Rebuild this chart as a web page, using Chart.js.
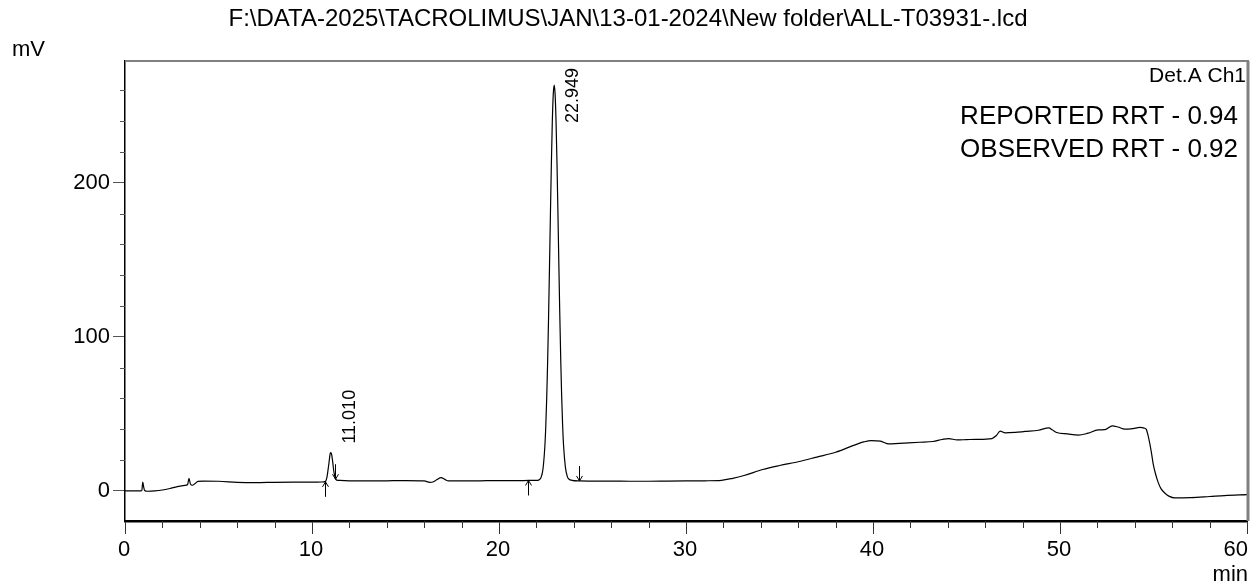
<!DOCTYPE html>
<html>
<head>
<meta charset="utf-8">
<script src="https://cdn.jsdelivr.net/npm/chart.js@4.4.1/dist/chart.umd.min.js"></script>
<style>
    html, body { margin: 0; padding: 0; background: #fff; }
    #wrap { width: 1256px; height: 587px; }
</style>
</head>
<body>
<div id="wrap"><canvas id="chrom" width="1256" height="587"></canvas></div>
<script>
// Chromatogram data (min, mV)
const times = [
    0.0, 0.5, 0.85, 0.9, 0.95, 1.0, 1.05, 1.2, 1.6, 2.0, 2.4, 2.8, 3.2, 3.35, 3.42, 3.5, 3.6, 3.75, 3.9, 4.2,
    5.0, 6.0, 7.0, 8.0, 9.0, 10.0, 10.5, 10.7, 10.8, 10.9, 10.97, 11.0, 11.05, 11.1, 11.17, 11.25, 11.32, 11.5,
    12.0, 13.0, 14.0, 15.0, 16.0, 16.3, 16.5, 16.7, 16.9, 17.1, 17.3, 18.0, 19.0, 20.0, 21.0, 21.6, 22.0,
    22.15, 22.25, 22.35, 22.45, 22.5, 22.55, 22.6, 22.65, 22.7, 22.75, 22.8, 22.85, 22.9, 22.95,
    23.0, 23.05, 23.1, 23.15, 23.2, 23.25, 23.3, 23.35, 23.4, 23.45, 23.55, 23.65, 23.75, 23.9, 24.3,
    25.0, 26.0, 27.0, 28.0, 29.0, 30.0, 31.0, 31.9, 32.5, 33.1, 34.1, 35.0, 36.06, 37.0, 38.0, 39.08,
    39.5, 39.9, 40.4, 40.85, 41.4, 41.9, 42.5, 43.2, 43.7, 44.05, 44.5, 45.0, 45.5, 46.36, 46.6, 46.8,
    47.07, 47.6, 48.13, 48.84, 49.4, 49.6, 49.82, 50.4, 50.98, 51.5, 52.04, 52.4, 52.8, 53.1, 53.47,
    53.9, 54.27, 54.5, 54.62, 54.7, 54.8, 54.9, 54.98, 55.1, 55.24, 55.4, 55.6, 55.85, 56.13, 57.0,
    58.0, 58.8, 60.0
];
const signal = [
    0.0, 0.0, 0.0, 0.3, 5.8, 2.5, 0.3, -0.2, 0.0, 0.6, 1.6, 2.8, 3.6, 4.2, 8.2, 4.5, 3.7, 4.8, 6.2, 6.4,
    6.3, 5.6, 5.4, 5.6, 5.7, 5.7, 5.8, 6.0, 9.0, 17.5, 24.0, 24.9, 23.8, 19.5, 12.5, 8.2, 7.0, 6.8,
    6.6, 6.5, 6.6, 6.7, 6.5, 5.6, 6.0, 7.5, 8.7, 7.5, 6.5, 6.5, 6.6, 6.7, 6.7, 6.8, 6.8,
    7.3, 8.8, 14.1, 28.5, 41.5, 59.6, 83.3, 112.2, 145.1, 179.6, 212.2, 239.2, 257.0, 263.3,
    257.5, 240.0, 213.5, 181.5, 147.5, 115.0, 86.0, 62.0, 43.5, 30.0, 15.5, 9.5, 7.6, 6.9, 6.5,
    6.4, 6.4, 6.3, 6.3, 6.4, 6.5, 6.6, 6.9, 8.2, 10.0, 13.9, 16.5, 19.1, 22.0, 25.1, 30.1,
    31.8, 32.7, 32.3, 30.5, 30.9, 31.2, 31.6, 32.1, 33.4, 34.0, 33.1, 33.3, 33.5, 34.0, 36.0, 38.8,
    37.7, 38.0, 38.6, 39.4, 40.9, 39.5, 37.9, 37.0, 36.2, 37.5, 39.6, 39.8, 42.2, 41.5, 40.1,
    40.5, 41.2, 40.8, 39.8, 36.5, 30.8, 24.0, 17.8, 11.5, 5.9, 1.5, -1.3, -3.5, -4.5, -4.3,
    -3.6, -3.0, -2.4
];

// Axis ticks
const xTicks = [0, 10, 20, 30, 40, 50, 60];
const xMinorTicks = [2, 4, 6, 8, 12, 14, 16, 18, 22, 24, 26, 28, 32, 34, 36, 38, 42, 44, 46, 48, 52, 54, 56, 58];
const yTicks = [0, 100, 200];
const yMinorTicks = [20, 40, 60, 80, 120, 140, 160, 180, 220, 240, 260];

// Peak labels and integration marks
const peakTimes = [11.010, 22.949];
const peakHeights = [24.9, 263.3];
const peakLabels = ['11.010', '22.949'];
const startMarks = [10.72, 21.55];
const startLevels = [5.9, 6.8];
const endMarks = [11.25, 24.3];
const endLevels = [7.6, 6.5];

const titleText = 'F:\\DATA-2025\\TACROLIMUS\\JAN\\13-01-2024\\New folder\\ALL-T03931-.lcd';
const channelText = 'Det.A Ch1';
const noteLines = ['REPORTED RRT - 0.94', 'OBSERVED RRT - 0.92'];

const FONT = '"Liberation Sans", Arial, Helvetica, sans-serif';

const drawArrow = (ctx, x, tipY, dir) => {
    // dir = -1 points up (tail below), 1 points down (tail above)
    const tailY = tipY - dir * 15;
    ctx.beginPath();
    ctx.moveTo(x, tailY);
    ctx.lineTo(x, tipY);
    ctx.moveTo(x - 3, tipY - dir * 5);
    ctx.lineTo(x, tipY);
    ctx.lineTo(x + 3, tipY - dir * 5);
    ctx.stroke();
};

const decorations = {
    id: 'decorations',
    afterDraw(chart) {
        const ctx = chart.ctx;
        const area = chart.chartArea;
        const xs = chart.scales.x;
        const ys = chart.scales.y;
        ctx.save();

        // frame (top and right)
        ctx.strokeStyle = '#808080';
        ctx.lineWidth = 2;
        ctx.beginPath();
        ctx.moveTo(area.left, area.top);
        ctx.lineTo(area.right + 2, area.top);
        ctx.stroke();
        ctx.lineWidth = 3;
        ctx.beginPath();
        ctx.moveTo(area.right + 1, area.top);
        ctx.lineTo(area.right + 1, area.bottom);
        ctx.stroke();

        // minor ticks
        ctx.strokeStyle = '#333';
        ctx.lineWidth = 1;
        xMinorTicks.forEach(v => {
            const px = Math.round(xs.getPixelForValue(v)) + 0.5;
            ctx.beginPath();
            ctx.moveTo(px, area.bottom);
            ctx.lineTo(px, area.bottom + 7);
            ctx.stroke();
        });
        ctx.strokeStyle = '#555';
        yMinorTicks.forEach(v => {
            const py = Math.round(ys.getPixelForValue(v)) + 0.5;
            ctx.beginPath();
            ctx.moveTo(area.left - 5, py);
            ctx.lineTo(area.left, py);
            ctx.stroke();
        });

        // x tick labels (last one kept inside the frame)
        ctx.fillStyle = '#000';
        ctx.font = '22px ' + FONT;
        ctx.textBaseline = 'alphabetic';
        xTicks.forEach((v, i) => {
            const px = xs.getPixelForValue(v);
            if (i === xTicks.length - 1) {
                ctx.textAlign = 'right';
                ctx.fillText(String(v), px + 1, 556);
            } else {
                ctx.textAlign = 'center';
                ctx.fillText(String(v), px - 1, 556);
            }
        });

        // axis units
        ctx.textAlign = 'right';
        ctx.fillText('min', area.right + 1, 581);
        ctx.textAlign = 'left';
        ctx.fillText('mV', 12, 56);

        // title
        ctx.font = '24px ' + FONT;
        ctx.textAlign = 'center';
        ctx.fillText(titleText, chart.width / 2, 26);

        // channel name and notes
        ctx.textAlign = 'right';
        ctx.font = '21px ' + FONT;
        ctx.fillText(channelText, area.right - 1, 82);
        ctx.font = '26px ' + FONT;
        noteLines.forEach((line, i) => {
            ctx.fillText(line, area.right - 9, 124 + i * 33);
        });

        // peak retention time labels (rotated, kept below the frame top)
        ctx.font = '18px ' + FONT;
        ctx.textAlign = 'left';
        peakTimes.forEach((t, i) => {
            const px = xs.getPixelForValue(t);
            const py = ys.getPixelForValue(peakHeights[i]);
            const w = ctx.measureText(peakLabels[i]).width;
            const startY = Math.max(py - 9, area.top + 7 + w);
            ctx.save();
            ctx.translate(px + 24, startY);
            ctx.rotate(-Math.PI / 2);
            ctx.fillText(peakLabels[i], 0, 0);
            ctx.restore();
        });

        // integration start / end marks
        ctx.strokeStyle = '#000';
        ctx.lineWidth = 1;
        startMarks.forEach((t, i) => {
            drawArrow(ctx, Math.round(xs.getPixelForValue(t)) + 0.5, ys.getPixelForValue(startLevels[i]), -1);
        });
        endMarks.forEach((t, i) => {
            drawArrow(ctx, Math.round(xs.getPixelForValue(t)) + 0.5, ys.getPixelForValue(endLevels[i]), 1);
        });

        ctx.restore();
    }
};

const points = times.map((t, i) => ({ x: t, y: signal[i] }));

new Chart(document.getElementById('chrom'), {
    type: 'line',
    data: {
        datasets: [{
            data: points,
            borderColor: '#000',
            borderWidth: 1.2,
            pointRadius: 0,
            cubicInterpolationMode: 'monotone',
            fill: false
        }]
    },
    options: {
        responsive: false,
        animation: false,
        devicePixelRatio: 1,
        layout: { padding: { top: 61, right: 9, left: 0, bottom: 0 } },
        plugins: {
            legend: { display: false },
            tooltip: { enabled: false }
        },
        scales: {
            x: {
                type: 'linear',
                min: 0,
                max: 60,
                afterBuildTicks: (scale) => { scale.ticks = xTicks.map(v => ({ value: v })); },
                afterFit: (scale) => { scale.height = 66; },
                ticks: { display: false },
                grid: { drawOnChartArea: false, drawTicks: true, tickLength: 13, color: '#333', lineWidth: 1 },
                border: { color: '#000', width: 2.5 }
            },
            y: {
                type: 'linear',
                min: -19.5,
                max: 279,
                afterBuildTicks: (scale) => { scale.ticks = yTicks.map(v => ({ value: v })); },
                afterFit: (scale) => { scale.width = 125; },
                ticks: {
                    color: '#000',
                    padding: 3,
                    font: { family: FONT, size: 22 }
                },
                grid: { drawOnChartArea: false, drawTicks: true, tickLength: 12, color: '#555', lineWidth: 1 },
                border: { color: '#000', width: 1.5 }
            }
        }
    },
    plugins: [decorations]
});
</script>
</body>
</html>
